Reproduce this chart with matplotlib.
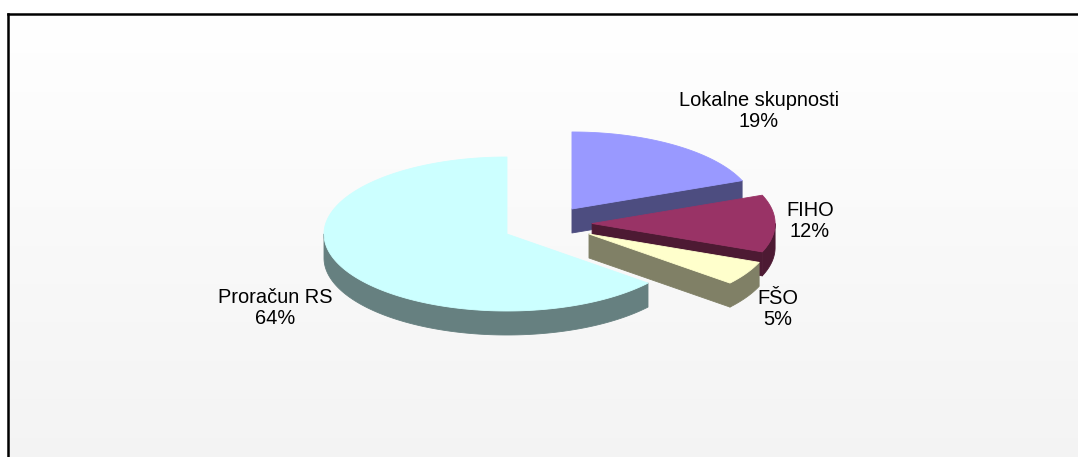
import numpy as np
import matplotlib
matplotlib.use('Agg')
import matplotlib.pyplot as plt
from matplotlib.patches import Polygon

# ---- data ----
categories = ['Lokalne skupnosti', 'FIHO', 'FŠO', 'Proračun RS']
values = [19, 12, 5, 64]
pct_labels = ['19%', '12%', '5%', '64%']

# ---- style ----
top_colors = ['#9999FF', '#993366', '#FFFFCC', '#CCFFFF']
side_colors = ['#4D4D80', '#4D1A33', '#808066', '#668080']
explode_dx = [0.355, 0.465, 0.448, 0.0]   # in units of horizontal radius
explode_dy = [-0.325, -0.136, 0.0, 0.0]   # in units of vertical radius
label_pos = [(759, 111), (810, 221), (778, 309), (275, 308)]
draw_order = [3, 0, 1, 2]

W, H = 1078, 457
fig = plt.figure(figsize=(W / 100, H / 100), dpi=100, facecolor='white')
ax = fig.add_axes([0, 0, 1, 1])
ax.axis('off')

# background gradient inside frame
grad = np.linspace(1.0, 0.955, 256).reshape(-1, 1)
ax.imshow(np.dstack([grad] * 3), extent=[8, W, H, 14], aspect='auto',
          zorder=0, interpolation='bilinear')

# frame (left and top edges visible)
ax.plot([8, 8], [H + 5, 14], color='black', lw=1.8, solid_capstyle='projecting', zorder=1)
ax.plot([8, W + 5], [14, 14], color='black', lw=1.8, solid_capstyle='projecting', zorder=1)

# pie geometry
cx, cy, rx, ry, depth = 507, 234, 183, 77, 24
total = float(sum(values))
ends = np.cumsum(values) / total * 360.0
starts = np.concatenate([[0.0], ends[:-1]])


def P(theta, ox, oy, dz=0.0):
    t = np.radians(theta)
    return np.column_stack([ox + rx * np.sin(t), oy - ry * np.cos(t) + dz])


z = 2
for i in draw_order:
    t1, t2 = starts[i], ends[i]
    ox = cx + explode_dx[i] * rx
    oy = cy + explode_dy[i] * ry
    kw = dict(linewidth=0.6, joinstyle='round')
    # outer curved side (front half only)
    a, b = max(t1, 90.0), min(t2, 270.0)
    if a < b:
        s = np.linspace(a, b, 150)
        topp = P(s, ox, oy)
        botp = P(s[::-1], ox, oy, depth)
        ax.add_patch(Polygon(np.vstack([topp, botp]), closed=True,
                             facecolor=side_colors[i], edgecolor=side_colors[i],
                             zorder=z, **kw))
        z += 1
    # radial faces
    for th, vis in ((t2, np.sin(np.radians(t2)) > 1e-6),
                    (t1, np.sin(np.radians(t1)) < -1e-6)):
        if vis:
            e = P(np.array([th]), ox, oy)[0]
            quad = np.array([[ox, oy], e, e + [0, depth], [ox, oy + depth]])
            ax.add_patch(Polygon(quad, closed=True, facecolor=side_colors[i],
                                 edgecolor=side_colors[i], zorder=z, **kw))
            z += 1
    # top face
    s = np.linspace(t1, t2, 300)
    poly = np.vstack([[ox, oy], P(s, ox, oy)])
    ax.add_patch(Polygon(poly, closed=True, facecolor=top_colors[i],
                         edgecolor=top_colors[i], zorder=z, **kw))
    z += 1

# labels
for i, (x, y) in enumerate(label_pos):
    ax.text(x, y, f"{categories[i]}\n{pct_labels[i]}", ha='center', va='center',
            multialignment='center', fontsize=14.4, family='Liberation Sans',
            linespacing=1.13, color='black', zorder=50)

ax.set_xlim(0, W)
ax.set_ylim(H, 0)
fig.savefig('out.png', dpi=100, facecolor='white')
